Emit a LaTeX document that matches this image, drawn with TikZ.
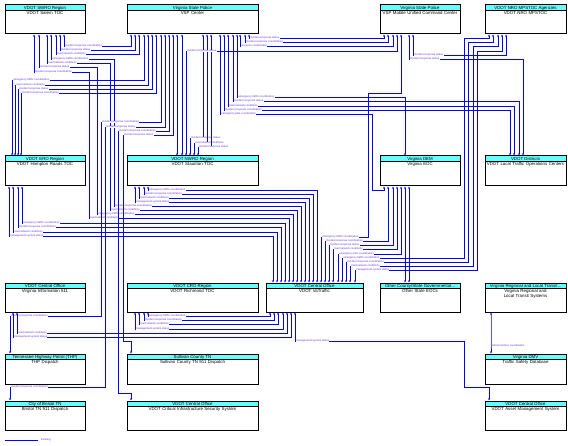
\documentclass[tikz,border=0pt]{standalone}
\usepackage{fontspec}
\setmainfont{Liberation Sans}
\usetikzlibrary{arrows.meta,fit}
\definecolor{flowblue}{RGB}{0,0,255}
\definecolor{labc}{RGB}{100,50,220}
\definecolor{hdr}{RGB}{102,255,255}
\tikzset{
 flow/.style={draw=flowblue, line width=0.8bp, {Stealth[length=2.2bp,width=2bp]}-{Stealth[length=2.2bp,width=2bp]}},
 lab/.style={font=\fontsize{2.7}{3}\selectfont, text=labc, fill=white, inner xsep=0.3bp, inner ysep=0.1bp, anchor=west, xshift=0.6bp},
 sysbox/.style={draw=black, line width=1bp, inner sep=0pt},
 hdrtext/.style={font=\fontsize{4.4}{5}\selectfont, inner sep=0pt},
 bodytext/.style={font=\fontsize{4.4}{4.9}\selectfont, inner sep=0pt, align=center, anchor=north},
}
\newcommand\mkbox[7]{%
 \fill[hdr] (#2,#3) rectangle (#4,#3+5.5);
 \draw[line width=0.6bp] (#2,#3+5.5) -- (#4,#3+5.5);
 \coordinate (#1-nw) at (#2,#3); \coordinate (#1-se) at (#4,#5);
 \node[sysbox, fit=(#1-nw)(#1-se)] (#1) {};
 \node[hdrtext] (#1-h) at (#2/2+#4/2,#3+2.9) {#6};
 \pgfmathsetlengthmacro\bw{(#4-#2-1.5)*1bp}%
 \node[bodytext, text width=\bw] (#1-b) at (#2/2+#4/2,#3+6.3) {#7};
}
\begin{document}
\begin{tikzpicture}[x=1bp,y=-1bp]
\fill[white] (0,0) rectangle (568,446);
\useasboundingbox (0,0) rectangle (568,446);
% boxes
\mkbox{A}{5}{5}{85}{34}{VDOT SWRO Region}{VDOT Salem TOC}
\mkbox{B}{127}{5}{258}{34}{Virginia State Police}{VSP Center}
\mkbox{C}{380}{5}{460}{34}{Virginia State Police}{VSP Mobile Unified Command Center}
\mkbox{D}{485}{5}{566}{34}{VDOT NRO MPSTOC Agencies}{VDOT NRO MPSTOC}
\mkbox{E}{5}{156}{85}{186}{VDOT ERO Region}{VDOT Hampton Roads TOC}
\mkbox{F}{127}{156}{258}{186}{VDOT NWRO Region}{VDOT Staunton TOC}
\mkbox{G}{380}{156}{460}{186}{Virginia DEM}{Virginia EOC}
\mkbox{H}{485}{156}{566}{186}{VDOT Districts}{VDOT Local Traffic Operations Centers}
\mkbox{I}{5}{283}{85}{312}{VDOT Central Office}{Virginia Information 511}
\mkbox{J}{127}{283}{258}{312}{VDOT CRO Region}{VDOT Richmond TOC}
\mkbox{K}{266}{283}{363}{312}{VDOT Central Office}{VDOT VaTraffic}
\mkbox{L}{380}{283}{460}{312}{Other County/State Governmental...}{Other State EOCs}
\mkbox{M}{485}{283}{566}{312}{Virginia Regional and Local Transit...}{Virginia Regional and Local Transit Systems}
\mkbox{N}{5}{354}{85}{384}{Tennessee Highway Patrol (THP)}{THP Dispatch}
\mkbox{O}{127}{354}{258}{384}{Sullivan County TN}{Sullivan County TN 911 Dispatch}
\mkbox{P}{485}{354}{566}{384}{Virginia DMV}{Traffic Safety Database}
\mkbox{Q}{5}{401}{85}{430}{City of Bristol TN}{Bristol TN 911 Dispatch}
\mkbox{R}{127}{401}{258}{430}{VDOT Central Office}{VDOT Critical Infrastructure Security System}
\mkbox{S}{485}{401}{566}{430}{VDOT Central Office}{VDOT Asset Management System}

% A -> B
\draw[flow] (A.south-|64,0) -- (64,46) node[lab](f1){incident response coordination} -| (B.south-|131,0);
\draw[flow] (A.south-|60,0) -- (60,50) node[lab](f2){incident response status} -| (B.south-|135,0);
\draw[flow] (A.south-|56,0) -- (56,54) node[lab](f3){road network conditions} -| (B.south-|139,0);
% A -> K
\draw[flow] (A.south-|51,0) -- (51,59) node[lab](f4){emergency traffic coordination} -- (114,59) -- (114,206) node[lab](f5){incident response coordination} -| (K.north-|301,0);
\draw[flow] (A.south-|47,0) -- (47,63) node[lab](f6){road network conditions} -- (110,63) -- (110,210) node[lab](f7){road network conditions} -| (K.north-|297,0);
\draw[flow] (A.south-|39,0) -- (39,67) node[lab](f8){incident response status} -- (97,67) -- (97,214) node[lab](f9){emergency traffic coordination} -| (K.north-|293,0);
\draw[flow] (A.south-|34,0) -- (34,72) node[lab](f10){incident response coordination} -- (89,72) -- (89,218) node[lab](f11){road network conditions} -| (K.north-|289,0);
% E -> B
\draw[flow] (E.north-|12,0) -- (12,80) node[lab](f12){emergency traffic coordination} -| (B.south-|144,0);
\draw[flow] (E.north-|15,0) -- (15,85) node[lab](f13){road network conditions} -| (B.south-|148,0);
\draw[flow] (E.north-|18,0) -- (18,89) node[lab](f14){incident response status} -| (B.south-|152,0);
\draw[flow] (E.north-|21,0) -- (21,93) node[lab](f15){incident response coordination} -| (B.south-|156,0);
% B -> N, Q, R, O
\draw[flow] (B.south-|161,0) -- (161,122) -- (101,122) node[lab](f16){incident response coordination} -- (101,316) -- (10,316) node[lab](f17){incident response coordination} -- (N.north-|10,0);
\draw[flow] (B.south-|165,0) -- (165,127) -- (105,127) node[lab](f18){incident response status} -- (105,387) -- (10,387) node[lab](f19){incident response coordination} -- (Q.north-|10,0);
\draw[flow] (B.south-|169,0) -- (169,131) -- (118,131) node[lab](f20){incident response coordination} -- (118,393) -| (R.north-|131,0);
\draw[flow] (B.south-|173,0) -- (173,135) -- (123,135) node[lab](f21){incident response status} -- (123,341) -| (O.north-|131,0);
% B -> F
\draw[flow] (B.south-|177,0) -- (F.north-|177,0);
\draw[flow] (B.south-|182,0) -- (F.north-|182,0);
\draw[flow] (B.south-|203,0) -- (203,138) -- (190,138) node[lab](f22){incident response status} -- (F.north-|190,0);
\draw[flow] (B.south-|207,0) -- (207,143) -- (194,143) node[lab](f23){road network conditions} -- (F.north-|194,0);
\draw[flow] (B.south-|211,0) -- (211,147) -- (198,147) node[lab](f24){incident response status} -- (F.north-|198,0);
% B -> G, H, C
\draw[flow] (B.south-|220,0) -- (220,114) node[lab](f25){emergency plan coordination} -- (372,114) -- (372,190) -| (G.south-|384,0);
\draw[flow] (B.south-|224,0) -- (224,110) node[lab](f26){incident response coordination} -| (H.north-|510,0);
\draw[flow] (B.south-|228,0) -- (228,106) node[lab](f27){road network conditions} -| (H.north-|514,0);
\draw[flow] (B.south-|233,0) -- (233,101) node[lab](f28){incident response status} -| (H.north-|519,0);
\draw[flow] (B.south-|237,0) -- (237,97) node[lab](f29){emergency traffic coordination} -| (G.north-|405,0);
\draw[flow] (B.south-|240,0) -- (240,46) node[lab](f30){resource coordination} -| (C.south-|393,0);
\draw[flow] (B.south-|245,0) -- (245,42) node[lab](f31){incident response coordination} -| (C.south-|388,0);
\draw[flow] (B.south-|249,0) -- (249,38) node[lab](f32){incident response status} -| (C.south-|384,0);
% F -> C
\draw[flow] (F.north-|186,0) -- (186,51) node[lab](f33){incident response status} -| (C.south-|397,0);
% C -> K, H, D
\draw[flow] (C.south-|401,0) -- (401,93) -- (368,93) -- (368,237) -- (321,237) node[lab](f34){emergency traffic coordination} -- (K.north-|321,0);
\draw[flow] (C.south-|409,0) -- (409,59) node[lab](f35){incident response status} -| (H.north-|523,0);
\draw[flow] (C.south-|413,0) -- (413,55) node[lab](f36){incident response status} -| (D.south-|506,0);
% G -> K, L
\draw[flow] (G.south-|388,0) -- (388,241) -- (325,241) node[lab](f37){incident response coordination} -- (K.north-|325,0);
\draw[flow] (G.south-|393,0) -- (393,245) -- (329,245) node[lab](f38){incident response status} -- (K.north-|329,0);
\draw[flow] (G.south-|397,0) -- (397,249) -- (333,249) node[lab](f39){road network conditions} -- (K.north-|333,0);
\draw[flow] (G.south-|401,0) -- (401,254) -- (338,254) node[lab](f40){emergency plan coordination} -- (K.north-|338,0);
\draw[flow] (G.south-|405,0) -- (L.north-|405,0);
\draw[flow] (G.south-|409,0) -- (L.north-|409,0);
% D -> K
\draw[flow] (D.south-|489,0) -- (489,38) -- (464,38) -- (464,258) -- (342,258) node[lab](f41){emergency traffic coordination} -- (K.north-|342,0);
\draw[flow] (D.south-|493,0) -- (493,42) -- (468,42) -- (468,262) -- (346,262) node[lab](f42){incident response coordination} -- (K.north-|346,0);
\draw[flow] (D.south-|498,0) -- (498,46) -- (473,46) -- (473,266) -- (350,266) node[lab](f43){road network conditions} -- (K.north-|350,0);
\draw[flow] (D.south-|502,0) -- (502,51) -- (477,51) -- (477,270) -- (355,270) node[lab](f44){management system status} -- (K.north-|355,0);
% E -> K
\draw[flow] (E.south-|22,0) -- (22,223) node[lab](f45){emergency traffic coordination} -| (K.north-|285,0);
\draw[flow] (E.south-|18,0) -- (18,227) node[lab](f46){incident response coordination} -| (K.north-|281,0);
\draw[flow] (E.south-|13,0) -- (13,232) node[lab](f47){road network conditions} -| (K.north-|277,0);
\draw[flow] (E.south-|9,0) -- (9,236) node[lab](f48){management system status} -| (K.north-|273,0);
% F -> K
\draw[flow] (F.south-|148,0) -- (148,190) node[lab](f49){emergency traffic coordination} -| (K.north-|317,0);
\draw[flow] (F.south-|144,0) -- (144,194) node[lab](f50){incident response coordination} -| (K.north-|313,0);
\draw[flow] (F.south-|139,0) -- (139,198) node[lab](f51){road network conditions} -| (K.north-|309,0);
\draw[flow] (F.south-|135,0) -- (135,202) node[lab](f52){management system status} -| (K.north-|305,0);
% J, I -> K bottom
\draw[flow] (J.south-|148,0) -- (148,316) node[lab](f53){emergency traffic coordination} -| (K.south-|270,0);
\draw[flow] (J.south-|144,0) -- (144,320) node[lab](f54){incident response coordination} -| (K.south-|274,0);
\draw[flow] (J.south-|139,0) -- (139,324) node[lab](f55){road network conditions} -| (K.south-|278,0);
\draw[flow] (J.south-|135,0) -- (135,329) node[lab](f56){management system status} -| (K.south-|283,0);
\draw[flow] (I.south-|17,0) -- (17,333) node[lab](f57){road network conditions} -| (K.south-|287,0);
\draw[flow] (I.south-|13,0) -- (13,337) node[lab](f58){management system status} -| (K.south-|291,0);
% K -> S
\draw[flow] (K.south-|295,0) -- (295,341) node[lab](f59){management system status} -- (464,341) -- (464,387) -| (S.north-|489,0);
% M -> P
\draw[flow] (M.south-|491,0) -- (491,346) node[lab](f60){transit archive coordination} -- (P.north-|491,0);
% legend
\draw[draw=flowblue, line width=0.8bp] (5,440) coordinate (lg1) -- (38,440) coordinate (lg2);
\node[font=\fontsize{2.7}{3}\selectfont, text=labc, anchor=west, inner sep=0pt] (legend) at (41,440) {Existing};
\end{tikzpicture}
\end{document}
